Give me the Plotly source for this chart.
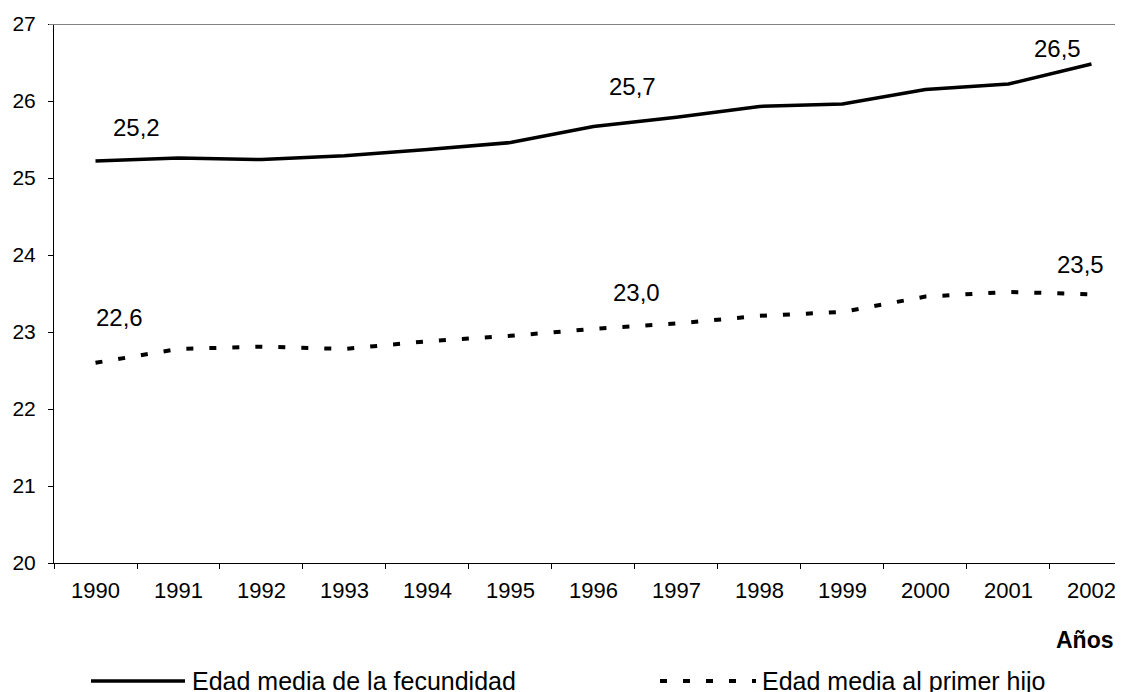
import plotly.graph_objects as go

years = ["1990", "1991", "1992", "1993", "1994", "1995", "1996",
         "1997", "1998", "1999", "2000", "2001", "2002"]
edad_fecundidad = [25.22, 25.26, 25.24, 25.29, 25.37, 25.46, 25.67,
                   25.79, 25.93, 25.96, 26.15, 26.22, 26.48]
edad_primer_hijo = [22.60, 22.78, 22.81, 22.78, 22.88, 22.95, 23.04,
                    23.11, 23.21, 23.26, 23.46, 23.52, 23.49]
y_ticks = [20, 21, 22, 23, 24, 25, 26, 27]
name_fec = "Edad media de la fecundidad"
name_hijo = "Edad media al primer hijo"
x_title = "Años"

# labelled points: (series index, category index, xshift, yshift)
label_points = [(0, 0, 41, 34), (0, 6, 39, 40), (0, 12, -34, 16),
                (1, 0, 24, 45), (1, 6, 43, 36), (1, 12, -11, 30)]

FONT = "Arial, 'Liberation Sans', sans-serif"
OFF = 8                      # default page body margin
W, H = 1123 - OFF, 692 - OFF
ML, MR, MT, MB = 46, 0, 16, 129
PW, PH = W - ML - MR, H - MT - MB


def px(x):  # page pixel -> paper
    return (x - OFF - ML) / PW


def py(y):
    return (H - MB - (y - OFF)) / PH


fig = go.Figure()
fig.add_trace(go.Scatter(x=years, y=edad_fecundidad, mode="lines", name=name_fec,
                         line=dict(color="black", width=3.5), showlegend=False))
fig.add_trace(go.Scatter(x=years, y=edad_primer_hijo, mode="lines", name=name_hijo,
                         line=dict(color="black", width=4, dash="7px,16px"),
                         showlegend=False))

series = [edad_fecundidad, edad_primer_hijo]
annotations = []
for s, i, dx, dy in label_points:
    v = series[s][i]
    annotations.append(dict(x=i, y=v, xref="x", yref="y",
                            text=f"{v:.1f}".replace(".", ","), showarrow=False,
                            xanchor="center", yanchor="middle",
                            xshift=dx, yshift=dy,
                            font=dict(family=FONT, size=24, color="black")))

# axis title
annotations.append(dict(x=px(1116), y=py(640), xref="paper", yref="paper",
                        text="<b>" + x_title + "</b>", showarrow=False,
                        xanchor="right", yanchor="middle",
                        font=dict(family=FONT, size=23, color="black")))
# legend texts
annotations.append(dict(x=px(190), y=py(681), xref="paper", yref="paper",
                        text=name_fec, showarrow=False, xanchor="left", yanchor="middle",
                        font=dict(family=FONT, size=25, color="black")))
annotations.append(dict(x=px(760), y=py(681), xref="paper", yref="paper",
                        text=name_hijo, showarrow=False, xanchor="left", yanchor="middle",
                        font=dict(family=FONT, size=25, color="black")))

shapes = [
    # top border of plot area (gray)
    dict(type="line", xref="paper", yref="y", x0=px(49), x1=1.0, y0=27, y1=27,
         line=dict(color="#808080", width=2)),
    # legend samples
    dict(type="line", xref="paper", yref="paper", x0=px(91), x1=px(185),
         y0=py(681), y1=py(681), line=dict(color="black", width=3.5)),
    dict(type="line", xref="paper", yref="paper", x0=px(660), x1=px(756),
         y0=py(681), y1=py(681), line=dict(color="black", width=4, dash="7px,16px")),
]

fig.update_layout(
    width=W, height=H,
    margin=dict(l=ML, r=MR, t=MT, b=MB, pad=0),
    paper_bgcolor="white", plot_bgcolor="white",
    font=dict(family=FONT, color="black"),
    annotations=annotations, shapes=shapes,
    xaxis=dict(type="category", range=[-0.5, 12.38], tickson="boundaries",
               ticks="outside", ticklen=5, tickcolor="black", tickwidth=1,
               showline=True, linecolor="black", linewidth=1, showgrid=False,
               zeroline=False, tickfont=dict(family=FONT, size=22, color="black"),
               ticklabelstandoff=8),
    yaxis=dict(range=[20, 27], tickvals=y_ticks, ticks="outside", ticklen=5,
               tickcolor="black", tickwidth=1, showline=True, linecolor="black",
               linewidth=1, showgrid=False, zeroline=False,
               tickfont=dict(family=FONT, size=21, color="black"),
               ticklabelstandoff=8),
)

fig.write_html("out.html")
